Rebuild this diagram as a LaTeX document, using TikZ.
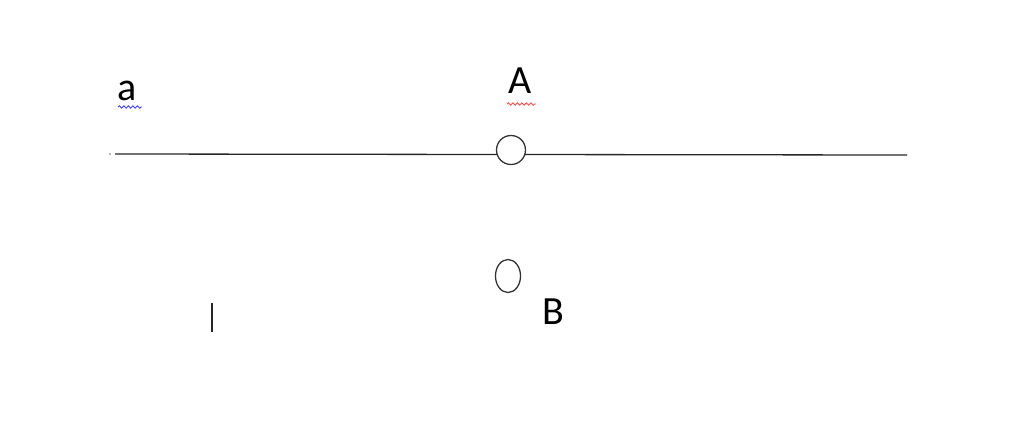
\documentclass[tikz,border=0pt]{standalone}
\usepackage{fontspec}
\setmainfont{Carlito}
\usetikzlibrary{positioning,decorations.pathmorphing}

\tikzset{
  dot/.style={draw=black!80,line width=1.3pt,fill=white,circle,inner sep=0pt},
  lbl/.style={inner sep=0pt,font=\fontsize{40}{46}\selectfont},
  squiggle/.style={line width=0.9pt,decorate,decoration={snake,amplitude=1.2pt,segment length=4.5pt}}
}

\begin{document}
\begin{tikzpicture}[x=1pt,y=-1pt]
  \useasboundingbox (0,0) rectangle (1024,424);

  % the line a and its point A
  \coordinate (la) at (115,154) ;
  \coordinate (ra) at (907,155) ;
  \draw [line width=1.3pt,black!85] (la) -- (ra) ;
  \node [dot,minimum size=29pt] (pA) at (511,150) {} ;
  \fill [black!60] (110,154) circle (0.8pt) ;

  % the point B
  \node [dot,minimum width=25pt,minimum height=33pt,xscale=0.76] (pB) at (508,276) {} ;

  % labels
  \node [lbl,anchor=base] (ta) at (127,100) {a} ;
  \node [lbl,anchor=base] (tA) at (520,93) {A} ;
  \node [lbl,anchor=base] (tB) at (553,324) {B} ;
  \draw [squiggle,blue!75] (118,107) -- (142,107) ;
  \draw [squiggle,red!70] (507,104) -- (536,104) ;

  % cursor
  \coordinate (ct) at (212,303) ;
  \coordinate (cb) at (212,332) ;
  \draw [line width=1.6pt,black!85] (ct) -- (cb) ;

\end{tikzpicture}
\end{document}
